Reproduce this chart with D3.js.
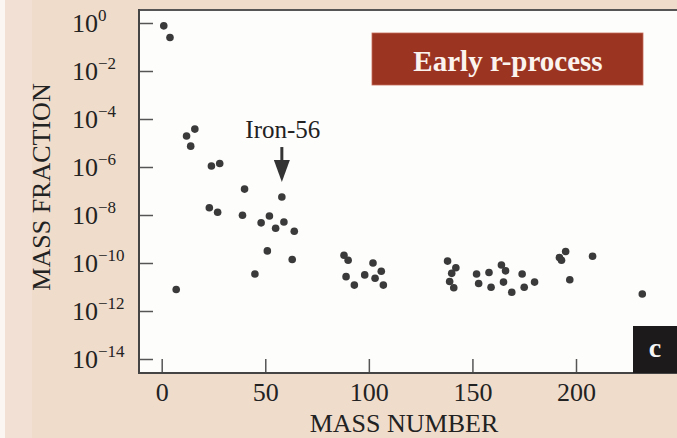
<!DOCTYPE html>
<html>
<head>
<meta charset="utf-8">
<script src="https://cdn.jsdelivr.net/npm/d3@7"></script>
<style>
  html, body { margin: 0; padding: 0; background: #f0dccb; }
  svg { display: block; }
  text { font-family: "Liberation Serif", "DejaVu Serif", serif; }
</style>
</head>
<body>
<svg id="chart" width="677" height="438"></svg>
<script>
// ---- data ----
const massNumber = [1, 4, 12, 16, 14, 24, 28, 40, 58, 23, 27, 39, 48, 52, 55, 59, 64, 51, 63, 45, 7,
  88, 90, 102, 89, 98, 106, 103, 93, 107,
  138, 142, 140, 139, 141, 152, 158, 164, 166, 174, 153, 159, 165, 169, 175, 180,
  192, 195, 193, 197, 208, 232];
const massFraction = [0.76, 0.25, 1.95e-5, 3.8e-5, 7.4e-6, 1.1e-6, 1.4e-6, 1.2e-7, 5.6e-8, 2.0e-8, 1.3e-8,
  9.8e-9, 4.7e-9, 9.1e-9, 2.8e-9, 5.1e-9, 2.1e-9, 3.2e-10, 1.4e-10, 3.5e-11, 7.9e-12,
  2.1e-10, 1.3e-10, 1.0e-10, 2.7e-11, 3.2e-11, 4.5e-11, 2.3e-11, 1.2e-11, 1.2e-11,
  1.2e-10, 6.3e-11, 3.7e-11, 1.7e-11, 9.3e-12, 3.5e-11, 4.0e-11, 8.3e-11, 4.7e-11, 3.5e-11,
  1.4e-11, 9.8e-12, 1.6e-11, 6.0e-12, 9.8e-12, 1.6e-11,
  1.7e-10, 3.0e-10, 1.3e-10, 2.0e-11, 1.9e-10, 5.1e-12];
const xTickValues = [0, 50, 100, 150, 200];
const yTickExponents = [0, -2, -4, -6, -8, -10, -12, -14];
const annotationLabel = "Iron-56";
const annotationIndex = 8;
const titleLabel = "Early r-process";
const panelLabel = "c";
const xAxisTitle = "MASS NUMBER";
const yAxisTitle = "MASS FRACTION";

// ---- layout ----
const W = 677, H = 438;
const frame = { left: 139, top: 10, right: 677, bottom: 373 };
const svg = d3.select("#chart");

// background strips
svg.append("rect").attr("x", 0).attr("y", 0).attr("width", W).attr("height", H).attr("fill", "#f0dccb");
svg.append("rect").attr("x", 0).attr("y", 0).attr("width", 32).attr("height", H).attr("fill", "#f3e0d5");
svg.append("rect").attr("x", 0).attr("y", 0).attr("width", 5).attr("height", H).attr("fill", "#fbf6f2");

// plot area
svg.append("rect")
  .attr("x", frame.left).attr("y", frame.top)
  .attr("width", frame.right - frame.left).attr("height", frame.bottom - frame.top)
  .attr("fill", "#fdfdfc");

const x = d3.scaleLinear().domain([0, 200]).range([161.7, 576]);
const y = d3.scaleLog().domain([1, 1e-14]).range([23, 359]);

// x axis ticks (inward)
const xAxis = d3.axisBottom(x).tickValues(xTickValues).tickSize(0).tickPadding(0).tickFormat("");
const gx = svg.append("g").attr("transform", `translate(0,${frame.bottom})`).call(xAxis);
gx.select(".domain").remove();
gx.selectAll(".tick line").attr("y1", 0).attr("y2", -14).attr("stroke", "#555").attr("stroke-width", 1.5);
gx.selectAll(".tick").append("text")
  .attr("y", 28).attr("text-anchor", "middle").attr("fill", "#222")
  .attr("font-size", 26).text(d => d);

// y axis ticks (inward)
const yTickValues = yTickExponents.map(e => Math.pow(10, e));
const yAxis = d3.axisLeft(y).tickValues(yTickValues).tickSize(0).tickFormat("");
const gy = svg.append("g").attr("transform", `translate(${frame.left},0)`).call(yAxis);
gy.select(".domain").remove();
gy.selectAll(".tick line").attr("x1", 0).attr("x2", 14).attr("stroke", "#555").attr("stroke-width", 1.5);
gy.selectAll(".tick").each(function (d, i) {
  const t = d3.select(this).append("text")
    .attr("x", 72 - frame.left).attr("y", 8).attr("text-anchor", "start")
    .attr("fill", "#222").attr("font-size", 26);
  t.append("tspan").text("10");
  const e = yTickExponents[i];
  t.append("tspan").attr("dy", -11).attr("font-size", 17)
    .text(e < 0 ? "\u2212" + Math.abs(e) : String(e));
});

// frame lines
svg.append("line").attr("x1", frame.left).attr("x2", frame.right)
  .attr("y1", frame.top).attr("y2", frame.top).attr("stroke", "#555").attr("stroke-width", 2);
svg.append("line").attr("x1", frame.left).attr("x2", frame.left)
  .attr("y1", frame.top - 1).attr("y2", frame.bottom + 1).attr("stroke", "#444").attr("stroke-width", 2);
svg.append("line").attr("x1", frame.left).attr("x2", frame.right)
  .attr("y1", frame.bottom).attr("y2", frame.bottom).attr("stroke", "#444").attr("stroke-width", 2);

// points
const pts = massNumber.map((m, i) => ({ m, f: massFraction[i] }));
svg.append("g").selectAll("circle").data(pts).join("circle")
  .attr("cx", d => x(d.m)).attr("cy", d => y(d.f)).attr("r", 3.8).attr("fill", "#3a3a3a");

// annotation arrow
const ax = x(massNumber[annotationIndex]);
const ay = y(massFraction[annotationIndex]);
svg.append("text").attr("x", ax + 1).attr("y", ay - 59).attr("text-anchor", "middle")
  .attr("font-size", 25).attr("fill", "#222").text(annotationLabel);
svg.append("line").attr("x1", ax).attr("x2", ax).attr("y1", ay - 50).attr("y2", ay - 30)
  .attr("stroke", "#333").attr("stroke-width", 3);
svg.append("path")
  .attr("d", `M${ax - 8},${ay - 37} L${ax + 8},${ay - 37} L${ax},${ay - 15} Z`)
  .attr("fill", "#333");

// title box
svg.append("rect").attr("x", 372).attr("y", 33).attr("width", 271).attr("height", 52)
  .attr("fill", "#9b3522").attr("stroke", "#c46a58").attr("stroke-width", 0.8);
svg.append("text").attr("x", 508).attr("y", 71).attr("text-anchor", "middle")
  .attr("font-size", 29).attr("font-weight", "bold").attr("fill", "#fbf3ee").text(titleLabel);

// panel label
svg.append("rect").attr("x", 633).attr("y", 326).attr("width", W - 633).attr("height", frame.bottom - 326)
  .attr("fill", "#1c1a1a");
svg.append("text").attr("x", 655).attr("y", 357).attr("text-anchor", "middle")
  .attr("font-size", 28).attr("font-weight", "bold").attr("fill", "#f5f5f5").text(panelLabel);

// axis titles
svg.append("text").attr("x", 404).attr("y", 432).attr("text-anchor", "middle")
  .attr("font-size", 26).attr("fill", "#222").text(xAxisTitle);
svg.append("text").attr("transform", "translate(50,187) rotate(-90)").attr("text-anchor", "middle")
  .attr("font-size", 26).attr("fill", "#222").text(yAxisTitle);
</script>
</body>
</html>
